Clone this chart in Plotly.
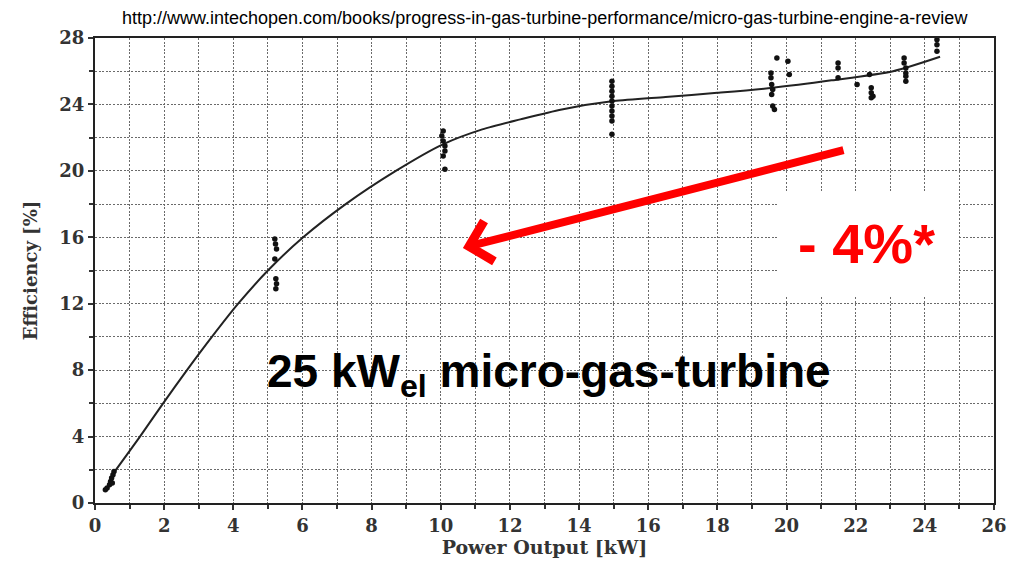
import plotly.graph_objects as go

# Fitted curve (efficiency vs power output)
curve_kw = [0.5, 1.3, 1.97, 2.66, 3.38, 4.14, 5.0, 6.02, 7.25, 8.7, 10.06,
            11.2, 12.3, 13.5, 15.0, 16.5, 18.0, 19.6, 21.3, 23.08, 24.44]
curve_eff = [1.7, 4.0, 6.0, 8.0, 10.0, 12.0, 14.0, 16.0, 18.0, 20.0, 21.6,
             22.5, 23.1, 23.7, 24.2, 24.45, 24.7, 25.0, 25.45, 26.0, 26.87]

# Measured points
meas_kw = [0.30, 0.35, 0.42, 0.45, 0.48, 0.50, 0.55, 0.52,
           5.20, 5.22, 5.25, 5.20, 5.23, 5.25, 5.23,
           10.07, 10.03, 10.07, 10.12, 10.12, 10.07, 10.12,
           14.95, 14.95, 14.95, 14.95, 14.95, 14.95, 14.95, 14.95, 14.95, 14.95,
           19.55, 19.55, 19.57, 19.6, 19.57, 19.6, 19.65, 19.72, 20.04, 20.08,
           21.49, 21.49, 21.49,
           22.04,
           22.4, 22.45, 22.45, 22.5, 22.45,
           23.4, 23.4, 23.45, 23.45, 23.45, 23.45,
           24.35, 24.35, 24.35]
meas_eff = [0.8, 0.9, 1.1, 1.3, 1.5, 1.2, 1.9, 1.7,
            15.9, 15.6, 15.3, 14.7, 13.5, 13.2, 12.9,
            22.4, 22.1, 21.8, 21.5, 21.2, 20.9, 20.1,
            25.4, 25.1, 24.8, 24.5, 24.2, 23.9, 23.6, 23.3, 23.0, 22.2,
            25.9, 25.6, 25.2, 24.9, 24.6, 23.9, 23.7, 26.8, 26.6, 25.8,
            26.5, 26.2, 25.6,
            25.2,
            25.8, 25.0, 24.7, 24.5, 24.4,
            26.8, 26.5, 26.2, 25.9, 25.7, 25.4,
            27.9, 27.6, 27.2]

x_ticks = list(range(0, 27, 2))
y_ticks = list(range(0, 29, 4))

source_url = "http://www.intechopen.com/books/progress-in-gas-turbine-performance/micro-gas-turbine-engine-a-review"
label_turbine = "25 kW<sub>el</sub> micro-gas-turbine"
label_drop = "- 4%*"

# annotation anchors (data units)
arrow_tail = (21.69, 21.27)
arrow_tip = (10.64, 15.36)
drop_box = (19.75, 12.4, 24.93, 18.67)
drop_pos = (22.3, 15.6)
turbine_pos = (13.13, 7.75)

serif = "DejaVu Serif"
sans = "Liberation Sans, Arial"

fig = go.Figure()
fig.add_trace(go.Scatter(x=curve_kw, y=curve_eff, mode="lines",
                         line=dict(color="#222", width=2, shape="spline", smoothing=0.7),
                         hoverinfo="skip", showlegend=False))
fig.add_trace(go.Scatter(x=meas_kw, y=meas_eff, mode="markers",
                         marker=dict(color="#111", size=5.5),
                         showlegend=False))

grid_common = dict(showgrid=True, gridcolor="#6a6a6a", gridwidth=1.4, griddash="2px,1.6px")
minor_common = dict(ticks="outside", ticklen=4, tickcolor="#333",
                    showgrid=True, gridcolor="#6a6a6a", gridwidth=1.4, griddash="2px,1.6px")

fig.update_xaxes(range=[0, 26], tickvals=x_ticks, ticktext=[str(v) for v in x_ticks],
                 ticks="outside", ticklen=5, tickcolor="#333", tickwidth=1.5,
                 minor=dict(dtick=1, tick0=0, **minor_common),
                 showline=True, linecolor="#222", linewidth=2, mirror=True,
                 zeroline=False, automargin=False,
                 tickfont=dict(family=serif, size=18, color="#333", weight="bold"),
                 title=dict(text="Power Output [kW]", standoff=4,
                            font=dict(family=serif, size=19, color="#333", weight="bold")),
                 **grid_common)
fig.update_yaxes(range=[0, 28], tickvals=y_ticks, ticktext=[str(v) for v in y_ticks],
                 ticks="outside", ticklen=5, tickcolor="#333", tickwidth=1.5,
                 minor=dict(dtick=2, tick0=0, **minor_common),
                 showline=True, linecolor="#222", linewidth=2, mirror=True,
                 zeroline=False, automargin=False,
                 tickfont=dict(family=serif, size=18, color="#333", weight="bold"),
                 title=dict(text="Efficiency [%]", standoff=17,
                            font=dict(family=serif, size=18, color="#333", weight="bold")),
                 **grid_common)

fig.add_shape(type="rect", xref="x", yref="y",
              x0=drop_box[0], y0=drop_box[1], x1=drop_box[2], y1=drop_box[3],
              fillcolor="white", line=dict(width=0), layer="above")

fig.add_annotation(x=arrow_tip[0], y=arrow_tip[1], ax=arrow_tail[0], ay=arrow_tail[1],
                   xref="x", yref="y", axref="x", ayref="y", text="",
                   showarrow=True, arrowhead=4, arrowsize=1.0, arrowwidth=8,
                   arrowcolor="#ff0000")
fig.add_annotation(x=drop_pos[0], y=drop_pos[1], xref="x", yref="y", text=label_drop,
                   showarrow=False, font=dict(family=sans, size=56, color="#ff0000", weight="bold"))
fig.add_annotation(x=turbine_pos[0], y=turbine_pos[1], xref="x", yref="y", text=label_turbine,
                   showarrow=False, font=dict(family=sans, size=46, color="#000", weight="bold"))
fig.add_annotation(x=0.5, y=1, xref="paper", yref="paper", yanchor="bottom", yshift=8,
                   text=source_url, showarrow=False,
                   font=dict(family=sans, size=18, color="#000"))

# page body has an 8px margin, so the figure is sized to fit the 1021x564 window
fig.update_layout(width=1013, height=556,
                  margin=dict(l=87, r=27, t=30, b=61, autoexpand=False),
                  paper_bgcolor="white", plot_bgcolor="white")

fig.write_html("out.html")
